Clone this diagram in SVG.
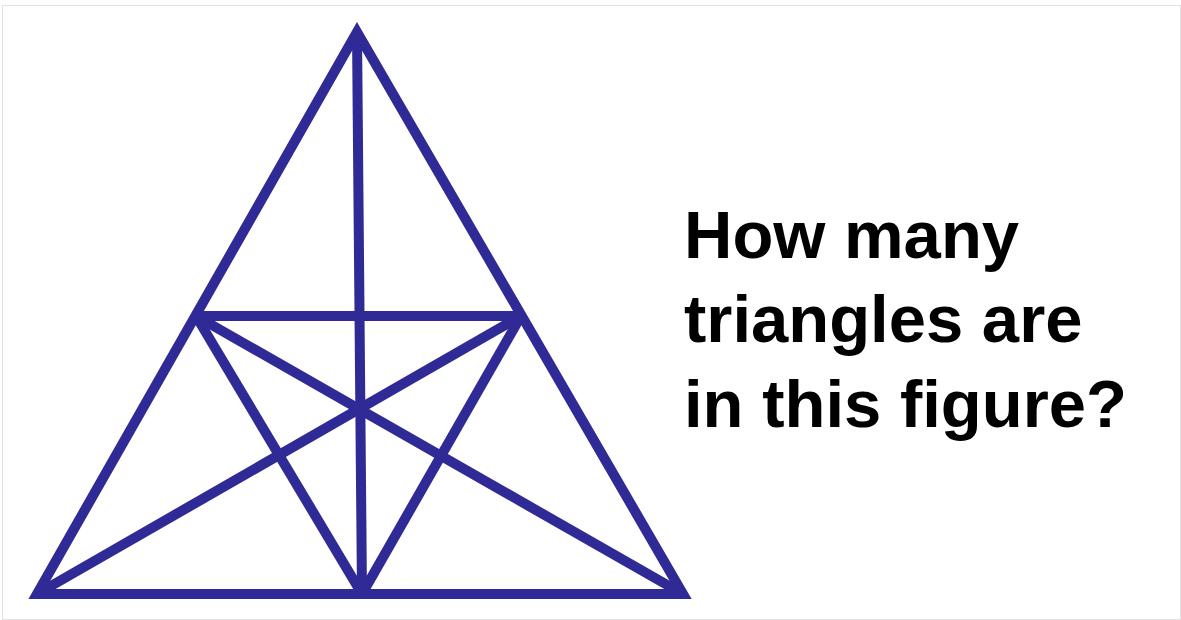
<svg xmlns="http://www.w3.org/2000/svg" width="1181" height="620" viewBox="0 0 1181 620">
<style>
.ln{stroke:#2f2a96;stroke-width:10;fill:none;stroke-linejoin:miter;stroke-linecap:butt}
.q{font-family:"Liberation Sans",Arial,sans-serif;font-weight:bold;font-size:67px;fill:#000}
</style>
<rect x="0" y="0" width="1181" height="620" fill="#fff"/>
<rect x="2.5" y="5.5" width="1178" height="614" fill="none" stroke="#e2e2e2" stroke-width="1"/>
<g id="figure">
<polygon class="ln" points="357,32 37,594 683,594"/>
</g>
<g id="connectors">
<line class="ln" x1="357" y1="32" x2="362" y2="594"/>
<line class="ln" x1="196" y1="316" x2="521" y2="316"/>
<line class="ln" x1="37" y1="594" x2="521" y2="316"/>
<line class="ln" x1="683" y1="594" x2="196" y2="316"/>
<line class="ln" x1="196" y1="316" x2="362" y2="594"/>
<line class="ln" x1="521" y1="316" x2="362" y2="594"/>
</g>
<g id="question">
<text class="q" x="684" y="258">How many</text>
<text class="q" x="684" y="342">triangles are</text>
<text class="q" x="684" y="427">in this figure?</text>
</g>
</svg>
